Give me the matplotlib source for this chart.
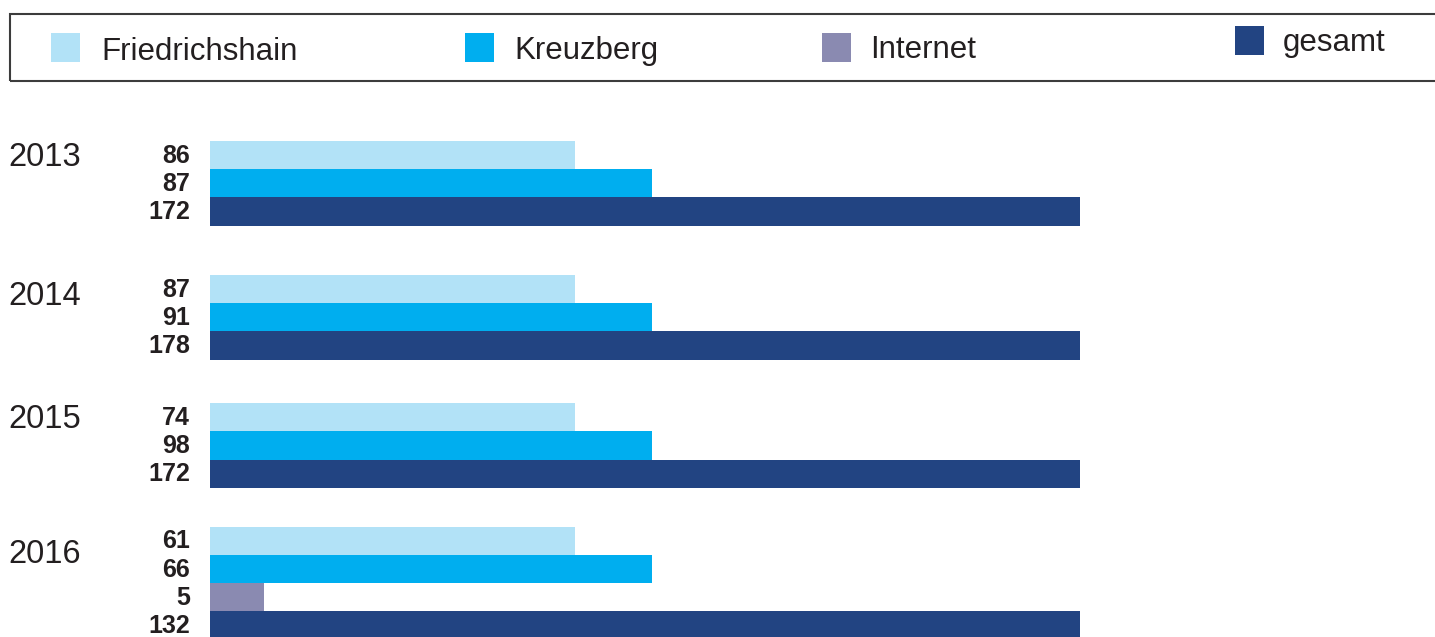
import matplotlib
matplotlib.use("Agg")
import matplotlib.pyplot as plt
from matplotlib.patches import Rectangle
from matplotlib.transforms import blended_transform_factory

# ---------------- data ----------------
years = ["2013", "2014", "2015", "2016"]
series = ["Friedrichshain", "Kreuzberg", "Internet", "gesamt"]
friedrichshain = [86, 87, 74, 61]
kreuzberg = [87, 91, 98, 66]
internet = [None, None, None, 5]
gesamt = [172, 178, 172, 132]
# the source graphic draws every series with one fixed bar length,
# whatever the number (share of the "gesamt" bar)
drawn_length = [0.4195, 0.508, 0.063, 1.0]

# ---------------- style / layout ----------------
colors = ["#b2e2f7", "#00aeef", "#8a8ab1", "#224482"]
text_color = "#231f20"
plt.rcParams["font.family"] = ["Liberation Sans", "DejaVu Sans"]

W, H = 1435, 637
BAR_PX = 28.2
fig = plt.figure(figsize=(W / 100, H / 100), dpi=100)
fig.patch.set_facecolor("white")

ax = fig.add_axes([209.5 / W, 0, (1080 - 209.5) / W, 1])
ax.set_xlim(0, 1)
ax.set_ylim(H / BAR_PX, 0)
ax.axis("off")

group_top_px = [141, 275, 403.3, 526.7]
year_baseline_px = [166.5, 305, 428.5, 563]

all_values = [friedrichshain, kreuzberg, internet, gesamt]
lab_trans = blended_transform_factory(fig.transFigure, ax.transData)

for gi, year in enumerate(years):
    slot = group_top_px[gi] / BAR_PX
    for si, vals in enumerate(all_values):
        v = vals[gi]
        if v is None:
            continue
        yc = slot + 0.5
        ax.barh(yc, drawn_length[si], height=1.0, left=0, color=colors[si],
                edgecolor="none", align="center")
        ax.text(190 / W, yc + 0.02, str(v), transform=lab_trans, ha="right",
                va="center", fontsize=18, fontweight="bold", color=text_color,
                clip_on=False)
        slot += 1
    fig.text(8 / W, 1 - year_baseline_px[gi] / H, year, ha="left",
             va="baseline", fontsize=23.5, color=text_color)

# ---------------- legend box ----------------
fig.add_artist(Rectangle((10 / W, 1 - 80.5 / H), (1460 - 10) / W, 66.5 / H,
                         transform=fig.transFigure, fill=False,
                         edgecolor="#3c3c3c", linewidth=1.5))
patch_x = [51, 465, 821.5, 1235]
patch_top = [33, 33, 33, 26.5]
text_x = [101, 514, 870, 1283]
text_base = [59.5, 59.5, 58.5, 51.5]
for i, name in enumerate(series):
    fig.add_artist(Rectangle((patch_x[i] / W, 1 - (patch_top[i] + 28.5) / H),
                             29 / W, 28.5 / H, transform=fig.transFigure,
                             facecolor=colors[i], edgecolor="none"))
    fig.text(text_x[i] / W, 1 - text_base[i] / H, name, ha="left",
             va="baseline", fontsize=22.5, color=text_color)

fig.savefig("out.png", dpi=100, facecolor="white")
